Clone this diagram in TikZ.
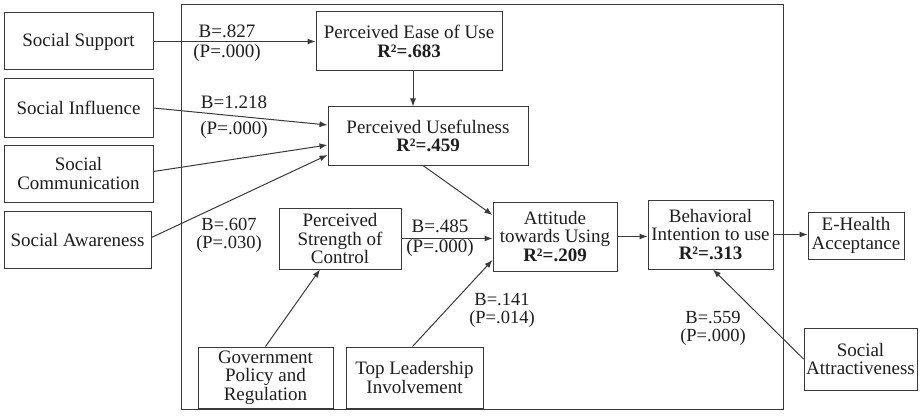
\documentclass[tikz,border=0pt]{standalone}
\usepackage{fontspec}
\setmainfont{Liberation Serif}
\usetikzlibrary{arrows.meta}
\definecolor{linec}{HTML}{3A3A3A}
\definecolor{txt}{HTML}{1E1E1E}
\begin{document}
\begin{tikzpicture}[x=1pt,y=-1pt,
  box/.style={draw=linec, line width=1pt, align=center, inner sep=0pt,
    font=\fontsize{19}{18.5}\selectfont, text=txt},
  lab/.style={inner sep=0pt, align=center, text=txt},
  arr/.style={draw=linec, line width=1pt, -{Latex[length=8pt,width=6pt]}}]
\useasboundingbox (0,0) rectangle (920,417);
\fill[white] (0,0) rectangle (920,417);

% model boundary
\draw[linec, line width=1pt] (181,5) rectangle (783,409);

% social factors on the left
\node[box, minimum width=149pt, minimum height=57pt] (ss) at (78.5,41.5) {Social Support};
\node[box, minimum width=149pt, minimum height=58pt] (si) at (78.5,108) {Social Influence};
\node[box, minimum width=149pt, minimum height=57pt] (sc) at (78.5,173.5) {Social\\Communication};
\node[box, minimum width=147pt, minimum height=57pt] (sa) at (77.5,239.5) {Social Awareness};

% core constructs
\node[box, minimum width=186pt, minimum height=59pt] (peu) at (409,41.5) {Perceived Ease of Use\\\textbf{R²=.683}};
\node[box, minimum width=200pt, minimum height=58pt] (pu) at (428,136) {Perceived Usefulness\\\textbf{R²=.459}};
\node[box, minimum width=122pt, minimum height=61pt] (psc) at (340,238.5) {Perceived\\Strength of\\Control};
\node[box, minimum width=124pt, minimum height=69pt] (atu) at (555,236.5) {Attitude\\towards Using\\\textbf{R²=.209}};
\node[box, minimum width=125pt, minimum height=69pt] (bi) at (710.5,234.5) {Behavioral\\Intention to use\\\textbf{R²=.313}};
\node[box, minimum width=96pt, minimum height=47pt] (eha) at (856,235.5) {E-Health\\Acceptance};
\node[box, minimum width=113pt, minimum height=62pt] (sattr) at (860.5,359) {Social\\Attractiveness};
\node[box, minimum width=135pt, minimum height=61pt] (gpr) at (265.5,377.5) {Government\\Policy and\\Regulation};
\node[box, minimum width=137pt, minimum height=61pt] (tli) at (414.5,377.5) {Top Leadership\\Involvement};

% paths
\draw[arr] (ss.east) -- (peu.west);
\draw[arr] (si.east) -- ([yshift=11pt]pu.west);
\draw[arr] ([yshift=2pt]sc.east) -- ([yshift=-9pt]pu.west);
\draw[arr] ([yshift=2pt]sa.east) -- ([yshift=-19pt]pu.west);
\draw[arr] ([xshift=4pt]peu.south) -- ([xshift=-15pt]pu.north);
\draw[arr] ([xshift=-5pt]pu.south) -- ([yshift=21.5pt]atu.west);
\draw[arr] (psc.east) -- (psc.east -| atu.west);
\draw[arr] ([xshift=-2pt]tli.north) -- ([yshift=-23.5pt]atu.west);
\draw[arr] (gpr.north) -- ([xshift=-20pt]psc.south);
\draw[arr] (atu.east) -- (atu.east -| bi.west);
\draw[arr] (bi.east) -- (bi.east -| eha.west);
\draw[arr] (sattr.west) -- ([xshift=2.5pt]bi.south);

% path coefficients
\node[lab, font=\fontsize{19}{20}\selectfont] (l1) at (227,43) {B=.827\\(P=.000)};
\node[lab, font=\fontsize{19}{18}\selectfont] (l2a) at (234,102) {B=1.218};
\node[lab, font=\fontsize{19}{18}\selectfont] (l2b) at (234,130) {(P=.000)};
\node[lab, font=\fontsize{18.5}{18}\selectfont] (l3) at (229,235) {B=.607\\(P=.030)};
\node[lab, font=\fontsize{19}{20}\selectfont] (l4) at (440,238) {B=.485\\(P=.000)};
\node[lab, font=\fontsize{18.5}{18}\selectfont] (l5) at (502,310) {B=.141\\(P=.014)};
\node[lab, font=\fontsize{18.5}{18}\selectfont] (l6) at (713,328) {B=.559\\(P=.000)};
\end{tikzpicture}
\end{document}
